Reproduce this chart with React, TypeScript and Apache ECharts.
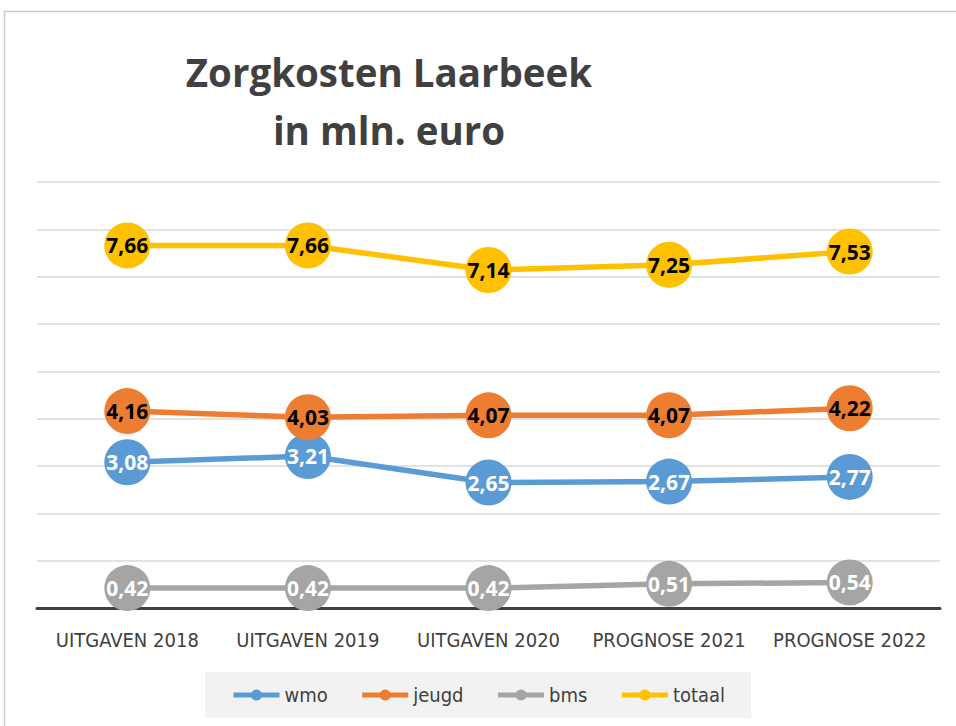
import React, { useEffect, useRef } from "react";
import * as echarts from "echarts";

const categories = ["UITGAVEN 2018", "UITGAVEN 2019", "UITGAVEN 2020", "PROGNOSE 2021", "PROGNOSE 2022"];
const wmo = [3.08, 3.21, 2.65, 2.67, 2.77];
const jeugd = [4.16, 4.03, 4.07, 4.07, 4.22];
const bms = [0.42, 0.42, 0.42, 0.51, 0.54];
const totaal = [7.66, 7.66, 7.14, 7.25, 7.53];

const FONT = "DejaVu Sans Condensed, Liberation Sans, sans-serif";

function mk(name: string, data: number[], color: string, labelColor: string) {
  return {
    name,
    type: "line",
    data,
    symbol: "circle",
    symbolSize: 46,
    itemStyle: { color },
    lineStyle: { color, width: 5.5 },
    label: {
      show: true,
      position: "inside",
      color: labelColor,
      fontWeight: "bold",
      fontSize: 21,
      fontFamily: "Open Sans, sans-serif",
      formatter: (p: any) => p.value.toFixed(2).replace(".", ","),
    },
  };
}

export default function App() {
  const ref = useRef<HTMLDivElement>(null);
  useEffect(() => {
    document.body.style.margin = "0";
    const chart = echarts.init(ref.current!, undefined, { renderer: "svg" });
    chart.setOption({
      animation: false,
      backgroundColor: "#ffffff",
      graphic: [
        {
          type: "rect",
          shape: { x: 4.5, y: 11.5, width: 980, height: 740 },
          style: { fill: "none", stroke: "#c9c9c9", lineWidth: 1.5 },
          silent: true,
        },
      ],
      title: {
        text: "Zorgkosten Laarbeek\nin mln. euro",
        left: 384,
        top: 38,
        textAlign: "center",
        textStyle: {
          fontFamily: "Open Sans, sans-serif",
          fontWeight: "bold",
          fontSize: 38.5,
          lineHeight: 58,
          color: "#404040",
        },
      },
      legend: {
        bottom: 8,
        left: "center",
        data: ["wmo", "jeugd", "bms", "totaal"],
        itemWidth: 46,
        itemHeight: 14,
        itemGap: 32,
        padding: [13, 26, 13, 26],
        backgroundColor: "#f2f2f2",
        lineStyle: { width: 5 },
        textStyle: { fontFamily: FONT, fontSize: 20, color: "#404040" },
      },
      grid: { left: 37, right: 16, top: 182, bottom: 118 },
      xAxis: {
        type: "category",
        data: categories,
        axisLine: { lineStyle: { color: "#404040", width: 3 } },
        axisTick: { show: false },
        axisLabel: { interval: 0, fontFamily: FONT, fontSize: 20, color: "#404040", margin: 22 },
      },
      yAxis: {
        type: "value",
        min: 0,
        max: 9,
        interval: 1,
        axisLabel: { show: false },
        axisLine: { show: false },
        axisTick: { show: false },
        splitLine: { lineStyle: { color: "#d9d9d9", width: 1.5 } },
      },
      series: [
        mk("wmo", wmo, "#5b9bd5", "#ffffff"),
        mk("jeugd", jeugd, "#ed7d31", "#000000"),
        mk("bms", bms, "#a5a5a5", "#ffffff"),
        mk("totaal", totaal, "#ffc000", "#000000"),
      ],
    });
    return () => chart.dispose();
  }, []);
  return <div ref={ref} style={{ width: 956, height: 726 }} />;
}
